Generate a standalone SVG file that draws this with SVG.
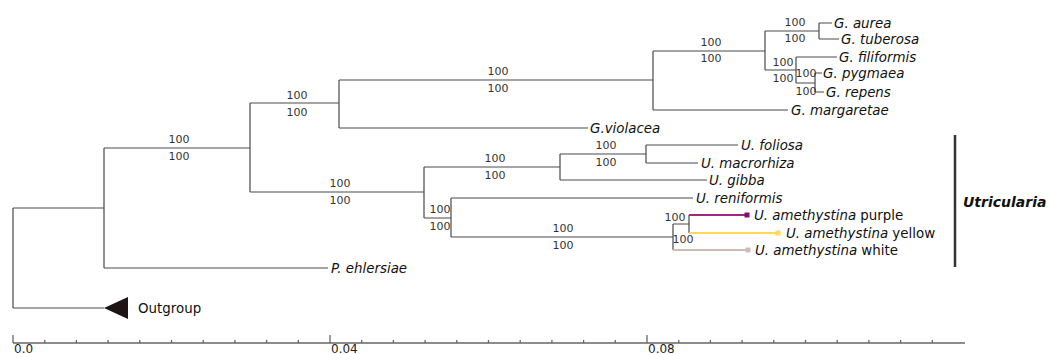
<svg xmlns="http://www.w3.org/2000/svg" width="1049" height="354" viewBox="0 0 1049 354">
<style>
.br{stroke:#4a4a4a;stroke-width:1.2;fill:none}
.sup{font-family:"DejaVu Sans",sans-serif;font-size:11px;fill:#333;text-anchor:middle}
.leaf{font-family:"DejaVu Sans",sans-serif;font-size:13.4px;fill:#111;font-style:italic}
.reg{font-style:normal}
.sc{stroke:#666;stroke-width:1.3}
.scl{font-family:"DejaVu Sans",sans-serif;font-size:12px;fill:#222}
</style>
<rect width="1049" height="354" fill="#fff"/>
<g id="connectors">
<path class="br" d="M13,208V308M13,208H104M13,308H104M104,148V268M104,268H328M104,148H250M250,103V192M250,103H339M339,80V128M339,128H588M339,80H653M653,51V110M653,110H788M653,51H765M765,31V70M765,31H819M819,23V39M819,23H832M819,39H839M765,70H796M796,57V83M796,57H837M796,83H815M815,73V92M815,73H822M815,92H824"/>
<path class="br" d="M250,192H424M424,167V218M424,167H560M560,154V180M560,180H707M560,154H646M646,145V163M646,145H738M646,163H698M424,218H451M451,198V237M451,198H693M451,237H673M673,224V250M673,224H689M689,215V233"/>
<path d="M689,215H747" stroke="#a3238f" stroke-width="2.2"/>
<path d="M689,233H778" stroke="#ffd85c" stroke-width="2.2"/>
<path d="M673,250H748" stroke="#cbbdb5" stroke-width="2.2"/>
</g>
<g id="squares">
<rect x="744.5" y="212.5" width="5" height="5" fill="#8a0a70"/>
<rect x="775.5" y="230.5" width="5" height="5" fill="#ffd85c"/>
<rect x="745.5" y="247.5" width="5" height="5" fill="#cbbdb5"/>
</g>
<g id="supports">
<text class="sup" x="179" y="143">100</text><text class="sup" x="179" y="160">100</text>
<text class="sup" x="297" y="99">100</text><text class="sup" x="297" y="116">100</text>
<text class="sup" x="498" y="75">100</text><text class="sup" x="498" y="92">100</text>
<text class="sup" x="711" y="46">100</text><text class="sup" x="711" y="62">100</text>
<text class="sup" x="795" y="26">100</text><text class="sup" x="795" y="42">100</text>
<text class="sup" x="783" y="66">100</text><text class="sup" x="783" y="82">100</text>
<text class="sup" x="806" y="77">100</text><text class="sup" x="806" y="95">100</text>
<text class="sup" x="340" y="187">100</text><text class="sup" x="340" y="204">100</text>
<text class="sup" x="495" y="162">100</text><text class="sup" x="495" y="179">100</text>
<text class="sup" x="606" y="149">100</text><text class="sup" x="606" y="166">100</text>
<text class="sup" x="440" y="213">100</text><text class="sup" x="440" y="230">100</text>
<text class="sup" x="563" y="232">100</text><text class="sup" x="563" y="249">100</text>
<text class="sup" x="675" y="221">100</text><text class="sup" x="683" y="243">100</text>
</g>
<g id="leaves">
<text class="leaf" x="834" y="28">G. aurea</text>
<text class="leaf" x="841" y="44">G. tuberosa</text>
<text class="leaf" x="839" y="62">G. filiformis</text>
<text class="leaf" x="823" y="78">G. pygmaea</text>
<text class="leaf" x="826" y="97">G. repens</text>
<text class="leaf" x="791" y="115">G. margaretae</text>
<text class="leaf" x="590" y="133">G.violacea</text>
<text class="leaf" x="741" y="150">U. foliosa</text>
<text class="leaf" x="701" y="168">U. macrorhiza</text>
<text class="leaf" x="709" y="185">U. gibba</text>
<text class="leaf" x="696" y="203">U. reniformis</text>
<text class="leaf" x="754" y="220">U. amethystina<tspan class="reg"> purple</tspan></text>
<text class="leaf" x="786" y="238">U. amethystina<tspan class="reg"> yellow</tspan></text>
<text class="leaf" x="755" y="255">U. amethystina<tspan class="reg"> white</tspan></text>
<text class="leaf" x="331" y="273">P. ehlersiae</text>
</g>
<g id="outgroup">
<polygon points="104,308 128,297 128,319" fill="#1e1416"/>
<text x="138" y="313" font-family="DejaVu Sans, sans-serif" font-size="13.4" fill="#111">Outgroup</text>
</g>
<g id="utricularia">
<line x1="955" y1="135" x2="955" y2="267" stroke="#333" stroke-width="2.5"/>
<text x="963" y="207" font-family="DejaVu Sans, sans-serif" font-size="14" font-weight="bold" font-style="italic" fill="#111">Utricularia</text>
</g>
<g id="scale">
<line class="sc" x1="13" y1="343" x2="965" y2="343"/>
<path class="sc" d="M13,335V343M330,335V343M647,335V343M44.7,340V343M76.4,340V343M108.1,340V343M139.8,340V343M171.5,340V343M203.2,340V343M234.9,340V343M266.6,340V343M298.3,340V343M361.7,340V343M393.4,340V343M425.1,340V343M456.8,340V343M488.5,340V343M520.2,340V343M551.9,340V343M583.6,340V343M615.3,340V343M678.7,340V343M710.4,340V343M742.1,340V343M773.8,340V343M805.5,340V343M837.2,340V343M868.9,340V343M900.6,340V343M932.3,340V343"/>
<text class="scl" x="14" y="353">0.0</text>
<text class="scl" x="331" y="353">0.04</text>
<text class="scl" x="648" y="353">0.08</text>
</g>
</svg>
